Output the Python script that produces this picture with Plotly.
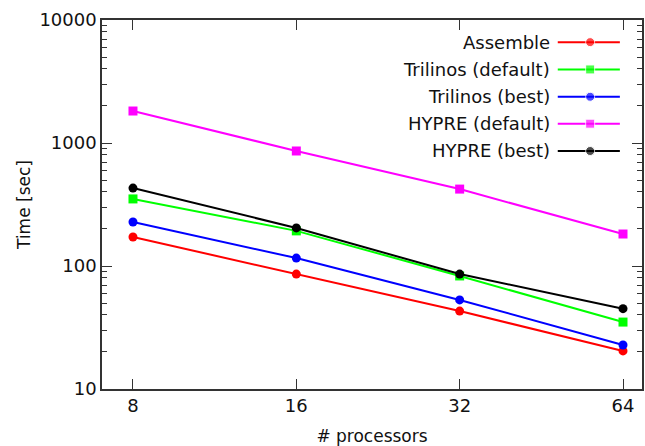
import plotly.graph_objects as go

processors = [8, 16, 32, 64]
series_names = ["Assemble", "Trilinos (default)", "Trilinos (best)", "HYPRE (default)", "HYPRE (best)"]
assemble = [172, 86, 43, 20.4]
trilinos_default = [351, 193, 83, 35]
trilinos_best = [228, 116, 53, 22.8]
hypre_default = [1820, 861, 422, 182]
hypre_best = [430, 204, 86, 45]
y_tick_vals = [10, 100, 1000, 10000]
y_tick_text = ["10", "100", "1000", "10000"]
x_tick_text = ["8", "16", "32", "64"]

values = [assemble, trilinos_default, trilinos_best, hypre_default, hypre_best]
colors = ["#ff0000", "#00ff00", "#0000ff", "#ff00ff", "#000000"]
symbols = ["circle", "square", "circle", "square", "circle"]

FONT = "DejaVu Sans"
fig = go.Figure()
for name, vals, c, s in zip(series_names, values, colors, symbols):
    fig.add_trace(go.Scatter(
        x=processors, y=vals, name=name, mode="lines+markers",
        line=dict(color=c, width=2),
        marker=dict(color=c, symbol=s, size=9),
        showlegend=False,
    ))

# custom legend (gnuplot style: text then sample)
leg_rows = [0.940, 0.866, 0.792, 0.719, 0.645]
x0, xm, x1 = 0.844, 0.904, 0.959
for name, c, s, yy in zip(series_names, colors, symbols, leg_rows):
    fig.add_trace(go.Scatter(
        x=[x0, xm, x1], y=[yy, yy, yy], mode="lines+markers",
        line=dict(color=c, width=2),
        marker=dict(color=c, symbol=s, size=[0, 9, 0]),
        xaxis="x2", yaxis="y2", showlegend=False, hoverinfo="skip",
    ))
    fig.add_annotation(x=0.833, y=yy, xref="paper", yref="paper", text=name,
                       showarrow=False, xanchor="right", yanchor="middle",
                       font=dict(family=FONT, size=18, color="#111"))

axis_common = dict(showline=True, linecolor="#333", linewidth=1.5, mirror="ticks",
                   ticks="inside", tickcolor="#333", tickwidth=1.2, showgrid=False,
                   zeroline=False, automargin=False,
                   tickfont=dict(family=FONT, size=18, color="#111"))

fig.update_layout(
    width=645, height=446,
    margin=dict(l=102, r=3, t=20, b=57),
    paper_bgcolor="white", plot_bgcolor="white",
    xaxis=dict(type="log", range=[0.846, 1.8412], tickvals=processors, ticktext=x_tick_text,
               ticklen=10,
               title=dict(text="# processors", font=dict(family=FONT, size=17, color="#111"), standoff=18),
               **axis_common),
    yaxis=dict(type="log", range=[1, 4], tickvals=y_tick_vals, ticktext=y_tick_text,
               ticklen=10,
               minor=dict(ticks="inside", ticklen=5, tickcolor="#333", tickwidth=1.2,
                          tickvals=[m * 10 ** e for e in range(1, 4) for m in range(2, 10)]),
               title=dict(text="Time [sec]", font=dict(family=FONT, size=17, color="#111"), standoff=4),
               **axis_common),
    xaxis2=dict(overlaying="x", range=[0, 1], visible=False, anchor="y2"),
    yaxis2=dict(overlaying="y", range=[0, 1], visible=False, anchor="x2"),
)

fig.write_html("out.html", config={"displayModeBar": False},
               post_script="document.body.style.margin='0';document.body.style.overflow='hidden';")
